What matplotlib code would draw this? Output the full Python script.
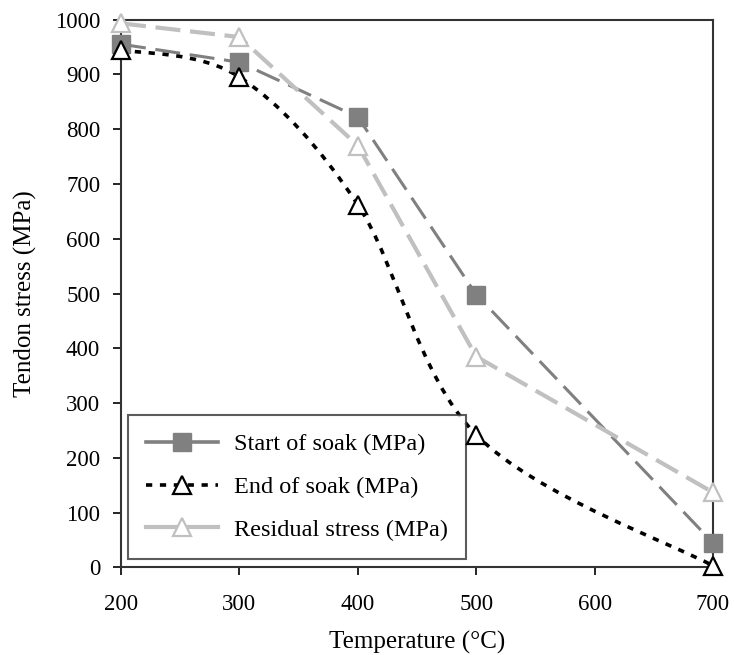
import matplotlib
matplotlib.use("Agg")
import matplotlib.pyplot as plt
import numpy as np
from matplotlib.path import Path
from matplotlib.patches import PathPatch
from matplotlib.lines import Line2D

plt.rcParams['font.family'] = ['Liberation Serif', 'DejaVu Serif']
plt.rcParams['lines.scale_dashes'] = False

temps = [200, 300, 400, 500, 700]
start_soak = [955, 922, 822, 498, 45]
end_soak = [945, 895, 662, 242, 3]
residual = [993, 968, 770, 385, 137]


def smooth_path(xs, ys):
    # excel-style smoothed line: cubic bezier through every point
    p = np.column_stack([xs, ys]).astype(float)
    padded = np.vstack([p[0], p, p[-1]])
    verts = [p[0]]
    codes = [Path.MOVETO]
    for i in range(len(p) - 1):
        c1 = p[i] + (padded[i + 2] - padded[i]) / 6
        c2 = p[i + 1] - (padded[i + 3] - padded[i + 1]) / 6
        verts += [c1, c2, p[i + 1]]
        codes += [Path.CURVE4] * 3
    return Path(verts, codes)


fig = plt.figure(figsize=(7.34, 6.55), dpi=100)
ax = fig.add_axes([0.1649, 0.1336, 0.8065, 0.8366])

long_dash = (0, (18, 7))
dots = (0, (4.5, 5.5))

# start of soak: straight dashed segments
ax.plot(temps, start_soak, color='#808080', linewidth=2.2, linestyle=long_dash,
        dash_capstyle='butt', zorder=3)
# residual: straight dashed segments
ax.plot(temps, residual, color='#c0c0c0', linewidth=3.0, linestyle=long_dash,
        dash_capstyle='butt', zorder=3)
# end of soak: smoothed dotted curve
ax.add_patch(PathPatch(smooth_path(temps, end_soak), fill=False, edgecolor='black',
                       linewidth=2.6, linestyle=dots, capstyle='butt', zorder=3))

ax.plot(temps, start_soak, linestyle='none', marker='s', markersize=13,
        markerfacecolor='#808080', markeredgecolor='#808080', clip_on=False, zorder=5)
ax.plot(temps, end_soak, linestyle='none', marker='^', markersize=13,
        markerfacecolor='white', markeredgecolor='black', markeredgewidth=1.6,
        clip_on=False, zorder=6)
ax.plot(temps, residual, linestyle='none', marker='^', markersize=13,
        markerfacecolor='white', markeredgecolor='#c0c0c0', markeredgewidth=1.6,
        clip_on=False, zorder=5)

handles = [
    Line2D([], [], color='#808080', linewidth=2.6, marker='s', markersize=13,
           markerfacecolor='#808080', markeredgecolor='#808080'),
    Line2D([], [], color='black', linewidth=2.6, linestyle=dots, marker='^',
           markersize=13, markerfacecolor='white', markeredgecolor='black',
           markeredgewidth=1.6),
    Line2D([], [], color='#c0c0c0', linewidth=3.0, marker='^', markersize=13,
           markerfacecolor='white', markeredgecolor='#c0c0c0', markeredgewidth=1.6),
]
labels = ['Start of soak (MPa)', 'End of soak (MPa)', 'Residual stress (MPa)']

ax.set_xlim(200, 700)
ax.set_ylim(0, 1000)
ax.set_xticks(range(200, 701, 100))
ax.set_yticks(range(0, 1001, 100))
ax.tick_params(direction='out', length=6, width=1.2, labelsize=16.5, colors='black')
ax.tick_params(axis='x', pad=13)
ax.tick_params(axis='y', pad=9)
for s in ax.spines.values():
    s.set_linewidth(1.5)
    s.set_color('#333333')

ax.set_xlabel('Temperature (°C)', fontsize=18)
ax.set_ylabel('Tendon stress (MPa)', fontsize=18)
ax.xaxis.set_label_coords(0.5, -0.115)
ax.yaxis.set_label_coords(-0.142, 0.5)

leg = ax.legend(handles=handles, labels=labels, loc='lower left',
                bbox_to_anchor=(0.012, 0.0155), borderaxespad=0, fontsize=17.5,
                frameon=True, fancybox=False, handlelength=2.95, handletextpad=0.65,
                labelspacing=0.85, borderpad=0.75)
leg.get_frame().set_edgecolor('#333333')
leg.get_frame().set_linewidth(1.5)

fig.savefig('out.png', dpi=100)
